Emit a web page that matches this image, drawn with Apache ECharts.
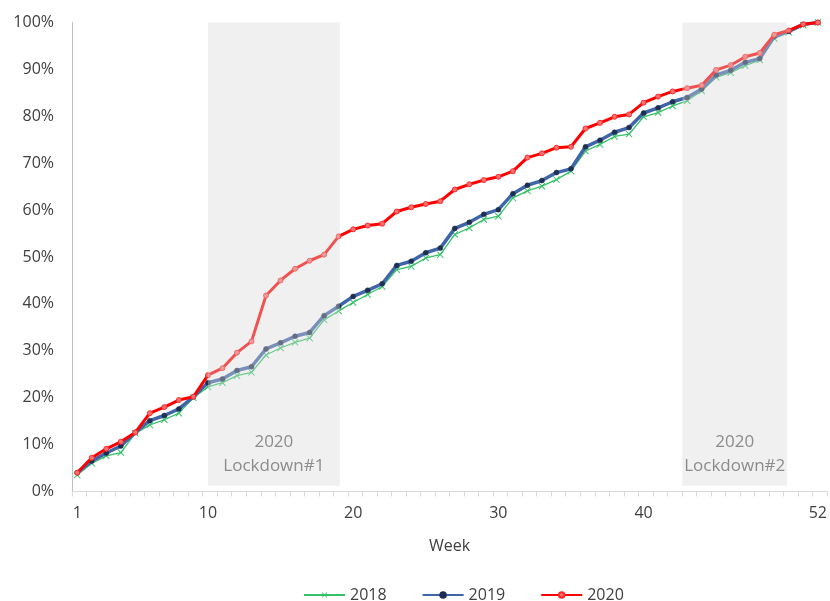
<!DOCTYPE html>
<html>
<head>
<meta charset="utf-8">
<script src="https://cdn.jsdelivr.net/npm/echarts@6/dist/echarts.min.js"></script>
<style>html,body{margin:0;padding:0;background:#fff;}#c{width:830px;height:601px;}</style>
</head>
<body>
<div id="c"></div>
<script>
var weeks = [1,2,3,4,5,6,7,8,9,10,11,12,13,14,15,16,17,18,19,20,21,22,23,24,25,26,27,28,29,30,31,32,33,34,35,36,37,38,39,40,41,42,43,44,45,46,47,48,49,50,51,52];
var s2018 = [3.5,6.0,7.6,8.3,12.4,14.2,15.3,16.7,20.0,22.3,23.2,24.7,25.4,29.1,30.6,31.8,32.7,36.6,38.5,40.3,42.0,43.7,47.3,48.0,49.8,50.5,54.8,56.2,58.0,58.7,62.6,64.1,65.1,66.5,68.3,72.6,74.0,75.7,76.2,79.9,80.8,82.2,83.3,85.4,88.3,89.3,90.8,92.0,96.6,97.9,99.4,100];
var s2019 = [4.0,6.5,8.2,9.7,12.6,15.1,16.2,17.6,20.2,23.2,24.0,25.8,26.6,30.4,31.7,33.1,33.9,37.5,39.5,41.6,42.9,44.3,48.2,49.1,50.9,51.9,56.1,57.4,59.1,60.1,63.5,65.3,66.3,68.0,68.8,73.5,74.9,76.6,77.6,80.7,81.8,83.1,84.0,85.8,88.8,89.8,91.5,92.3,97.0,98.1,99.6,100];
var s2020 = [4.0,7.2,9.1,10.6,12.6,16.7,18.0,19.5,20.2,24.8,26.3,29.6,32.0,41.8,45.0,47.5,49.2,50.5,54.4,55.9,56.7,57.1,59.7,60.6,61.3,61.9,64.4,65.5,66.4,67.1,68.3,71.2,72.1,73.3,73.5,77.4,78.6,79.9,80.4,82.9,84.2,85.3,86.0,86.6,89.9,90.9,92.7,93.5,97.4,98.3,99.6,100];
var seriesNames = ['2018','2019','2020'];
var xLabelWeeks = [1,10,20,30,40,52];
var yTicks = [0,10,20,30,40,50,60,70,80,90,100];
var lockdownNames = ['2020\nLockdown#1','2020\nLockdown#2'];
var lockdownStart = [10.0, 42.67];
var lockdownEnd = [19.08, 49.88];

var FONT = 'Open Sans';
var TXT = '#404040';
function pairs(arr){ return weeks.map(function(w,i){ return [w, arr[i]]; }); }
var tickVals = weeks.map(function(w){ return w - 0.36; });
tickVals.push(52.64);

var chart = echarts.init(document.getElementById('c'), null, {renderer:'canvas'});
var areas = lockdownNames.map(function(n,i){
  return [{name:n, xAxis: lockdownStart[i], yAxis: 1.2}, {xAxis: lockdownEnd[i], yAxis: 100.3}];
});
chart.setOption({
  animation: false,
  textStyle: {fontFamily: FONT},
  grid: {left: 72, right: 0.5, top: 22.5, bottom: 109.5, containLabel: false},
  xAxis: {
    type: 'value', min: 0.64, max: 52.64,
    name: 'Week', nameLocation: 'middle', nameGap: 47,
    nameTextStyle: {fontFamily: FONT, fontSize: 16, color: TXT},
    axisLine: {show: true, lineStyle: {color: '#d9d9d9', width: 1}},
    axisTick: {show: true, length: 5, customValues: tickVals, lineStyle: {color: '#d9d9d9'}},
    axisLabel: {customValues: xLabelWeeks, fontFamily: FONT, fontSize: 16, color: TXT, margin: 14},
    splitLine: {show: false}
  },
  yAxis: {
    type: 'value', min: 0, max: 100, interval: 10,
    axisLine: {show: true, lineStyle: {color: '#bfbfbf', width: 1}},
    axisTick: {show: false},
    axisLabel: {formatter: '{value}%', fontFamily: FONT, fontSize: 16, color: TXT, margin: 18, customValues: yTicks},
    splitLine: {show: false}
  },
  legend: {
    data: seriesNames, left: 298, top: 582, itemWidth: 41, itemHeight: 7, itemGap: 35,
    textStyle: {fontFamily: FONT, fontSize: 16, color: TXT}
  },
  series: [
    {
      name: seriesNames[0], type: 'line', data: pairs(s2018), z: 2,
      symbol: 'path://M0,1L1,0L5,4L9,0L10,1L6,5L10,9L9,10L5,6L1,10L0,9L4,5Z', symbolSize: 7,
      lineStyle: {color: '#33c266', width: 1.3},
      itemStyle: {color: '#33c266'}
    },
    {
      name: seriesNames[1], type: 'line', data: pairs(s2019), z: 3,
      symbol: 'circle', symbolSize: 5,
      lineStyle: {color: '#4065a8', width: 3.5},
      itemStyle: {color: '#1f2f50', borderColor: '#1f2f50', borderWidth: 0.5}
    },
    {
      name: seriesNames[2], type: 'line', data: pairs(s2020), z: 4,
      symbol: 'circle', symbolSize: 5,
      lineStyle: {color: '#ff0000', width: 3},
      itemStyle: {color: '#ff7070', borderColor: '#ff2a2a', borderWidth: 1}
    },
    {
      name: 'shade', type: 'line', data: [], z: 10, silent: true,
      markArea: {
        silent: true, z: 20,
        itemStyle: {color: 'rgba(215,215,215,0.38)'},
        label: {show: true, position: 'insideBottom', distance: 8, color: '#8c8c8c', fontFamily: FONT, fontSize: 17, lineHeight: 24, align: 'center'},
        data: areas
      }
    }
  ]
});
</script>
</body>
</html>
